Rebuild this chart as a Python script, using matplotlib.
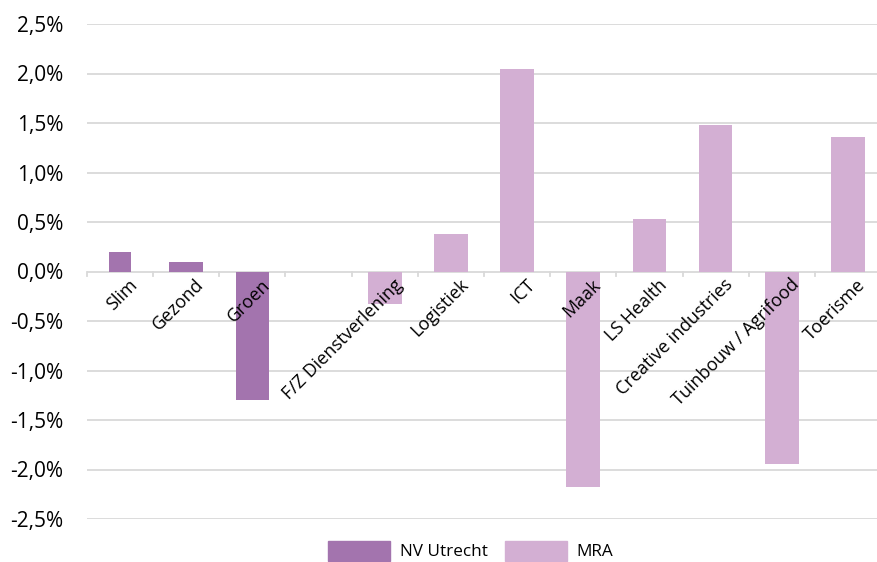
import matplotlib
matplotlib.use("Agg")
import matplotlib.pyplot as plt
from matplotlib.patches import Patch
import numpy as np

plt.rcParams['font.family'] = ['Open Sans', 'DejaVu Sans']

categories = ["Slim", "Gezond", "Groen", "", "F/Z Dienstverlening", "Logistiek", "ICT",
              "Maak", "LS Health", "Creative industries", "Tuinbouw / Agrifood", "Toerisme"]
nv_utrecht = [0.20, 0.10, -1.30, None, None, None, None, None, None, None, None, None]
mra = [None, None, None, None, -0.33, 0.38, 2.05, -2.18, 0.53, 1.48, -1.94, 1.36]
yticks = [-2.5, -2.0, -1.5, -1.0, -0.5, 0.0, 0.5, 1.0, 1.5, 2.0, 2.5]

c_nv = "#A374AE"
c_mra = "#D3AFD3"
grid_c = "#D9D9D9"

W, H = 877, 562
fig = plt.figure(figsize=(W / 100, H / 100), dpi=100)
left, right = 87 / W, 881 / W
top, bottom = 1 - 24 / H, 1 - 519 / H
ax = fig.add_axes([left, bottom, right - left, top - bottom])

x = np.arange(len(categories))
widths = [0.32] + [0.51] * (len(categories) - 1)
nv_vals = [np.nan if v is None else v for v in nv_utrecht]
mra_vals = [np.nan if v is None else v for v in mra]
ax.bar(x, nv_vals, width=widths, color=c_nv, zorder=3, label="NV Utrecht")
ax.bar(x, mra_vals, width=widths, color=c_mra, zorder=3, label="MRA")

ax.set_xlim(-0.5, len(categories) - 0.5)
ax.set_ylim(-2.5, 2.5)
ax.set_yticks(yticks)
ax.set_yticklabels([("%.1f%%" % v).replace(".", ",") for v in yticks])
for v in yticks:
    ax.axhline(v, color=grid_c, lw=1.3, zorder=1)

for s in ax.spines.values():
    s.set_visible(False)

ax.tick_params(axis='y', length=0, pad=17, labelsize=15, colors="#000000")
ax.set_xticks(x)
ax.set_xticklabels([])
ax.tick_params(axis='x', length=0)

# category boundary tick marks on the zero line
for b in np.arange(-0.5, len(categories), 1.0):
    ax.plot([b, b], [0, -0.05], color=grid_c, lw=1.3, zorder=2, clip_on=False)

# rotated category labels anchored at zero line
for xi, lab in zip(x, categories):
    if not lab:
        continue
    ax.annotate(lab, xy=(xi, 0), xycoords='data', xytext=(6, -3), textcoords='offset points',
                rotation=45, ha='right', va='top', rotation_mode='anchor', fontsize=13,
                zorder=4)

handles = [Patch(color=c_nv, label="NV Utrecht"), Patch(color=c_mra, label="MRA")]
fig.legend(handles=handles, loc='lower center', bbox_to_anchor=(0.537, -0.025), ncol=2,
           frameon=False, fontsize=12.3, handlelength=3.6, handleheight=1.4,
           columnspacing=1.0, handletextpad=0.6)

fig.savefig("out.png", dpi=100)
